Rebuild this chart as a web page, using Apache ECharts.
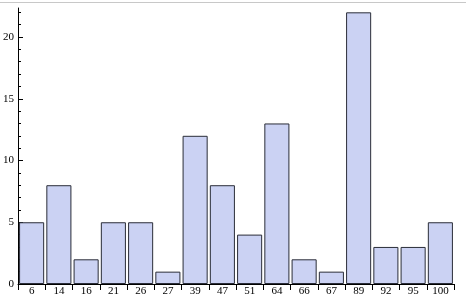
<!DOCTYPE html>
<html>
<head>
<meta charset="utf-8">
<script src="https://cdn.jsdelivr.net/npm/echarts@6/dist/echarts.min.js"></script>
<style>
html,body{margin:0;padding:0;background:#fff;}
#c{width:466px;height:297px;}
</style>
</head>
<body>
<div id="c"></div>
<script>
var categories = ['6','14','16','21','26','27','39','47','51','64','66','67','89','92','95','100'];
var values = [5,8,2,5,5,1,12,8,4,13,2,1,22,3,3,5];
var yMajorTicks = [0,5,10,15,20];
var yMinorTicks = [1,2,3,4,6,7,8,9,11,12,13,14,16,17,18,19,21,22];

var chart = echarts.init(document.getElementById('c'), null, {renderer:'canvas'});
var font = {fontFamily:'Liberation Serif', fontSize:11, color:'#000'};
chart.setOption({
  animation:false,
  backgroundColor:'#fff',
  graphic:[{type:'line', shape:{x1:0,y1:2.5,x2:466,y2:2.5}, style:{stroke:'#c8c8c8', lineWidth:1}}],
  grid:{left:17.5, right:12, top:8, bottom:13, containLabel:false},
  xAxis:{
    type:'category', data:categories, boundaryGap:true,
    axisLine:{lineStyle:{color:'#000', width:1}},
    axisTick:{show:true, alignWithLabel:false, length:6, inside:false, lineStyle:{color:'#000'}},
    axisLabel:Object.assign({margin:2}, font),
    splitLine:{show:false}
  },
  yAxis:[{
    type:'value', min:0, max:22.35,
    axisLine:{show:true, lineStyle:{color:'#000', width:1}},
    axisTick:{show:true, inside:true, length:5, customValues:yMajorTicks, lineStyle:{color:'#000'}},
    axisLabel:Object.assign({margin:4, customValues:yMajorTicks}, font),
    splitLine:{show:false}
  },{
    type:'value', min:0, max:22.35, position:'left',
    axisLine:{show:false},
    axisTick:{show:true, inside:true, length:3, customValues:yMinorTicks, lineStyle:{color:'#000'}},
    axisLabel:{show:false},
    splitLine:{show:false}
  }],
  series:[{
    type:'bar', data:values, barCategoryGap:'8%',
    itemStyle:{color:'#cbd2f3', borderColor:'#2a2d38', borderWidth:1}
  }]
});
</script>
</body>
</html>
